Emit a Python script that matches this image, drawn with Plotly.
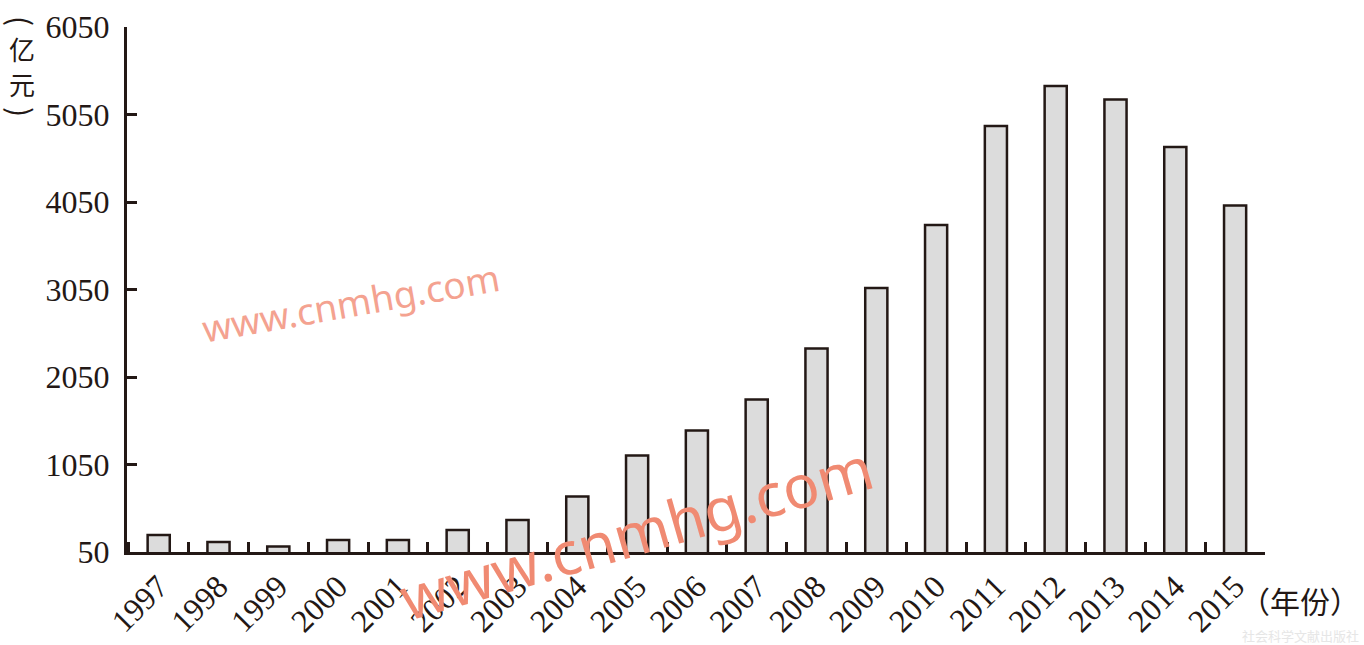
import plotly.graph_objects as go

years = ["1997", "1998", "1999", "2000", "2001", "2002", "2003", "2004", "2005", "2006",
         "2007", "2008", "2009", "2010", "2011", "2012", "2013", "2014", "2015"]
values = [244, 164, 113, 187, 187, 301, 416, 684, 1153, 1439,
          1793, 2376, 3067, 3787, 4919, 5376, 5221, 4679, 4010]
y_ticks = [50, 1050, 2050, 3050, 4050, 5050, 6050]

ink = "#231815"
serif = "Liberation Serif, Times New Roman, serif"
cjk = "Noto Sans CJK SC, sans-serif"

L, R, T, B = 127, 99, 27, 93
W, H = 1364, 645
PW, PH = W - L - R, H - T - B


def px(xp):
    return (xp - L) / PW


def py(yp):
    return (H - B - yp) / PH


fig = go.Figure()
fig.add_trace(go.Bar(
    x=years, y=values,
    width=0.37,
    marker=dict(color="#dcdcdc", line=dict(color=ink, width=2.5)),
))

fig.update_layout(
    width=W, height=H,
    margin=dict(l=L, r=R, t=T, b=B),
    paper_bgcolor="white", plot_bgcolor="white",
    showlegend=False,
    xaxis=dict(
        type="category",
        range=[-0.53, 18.5],
        automargin=False,
        showline=True, linecolor=ink, linewidth=3,
        ticks="inside", tickson="boundaries", ticklen=10, tickwidth=3, tickcolor=ink,
        tickangle=-45,
        tickfont=dict(family=serif, size=32, color=ink),
        showgrid=False, zeroline=False,
    ),
    yaxis=dict(
        range=[50, 6050],
        automargin=False,
        tickvals=y_ticks,
        ticktext=[str(v) for v in y_ticks],
        showline=True, linecolor=ink, linewidth=3,
        ticks="inside", ticklen=10, tickwidth=3, tickcolor=ink,
        ticklabelstandoff=8,
        tickfont=dict(family=serif, size=32, color=ink),
        showgrid=False, zeroline=False,
    ),
)

# vertical y-axis unit label （亿元）
fig.add_annotation(text="(", xref="paper", yref="paper", x=px(22), y=py(21),
                   xanchor="center", yanchor="middle", showarrow=False, textangle=90,
                   font=dict(family=cjk, size=30, color=ink))
fig.add_annotation(text="亿", xref="paper", yref="paper", x=px(22), y=py(49),
                   xanchor="center", yanchor="middle", showarrow=False,
                   font=dict(family=cjk, size=26, color=ink))
fig.add_annotation(text="元", xref="paper", yref="paper", x=px(22), y=py(84),
                   xanchor="center", yanchor="middle", showarrow=False,
                   font=dict(family=cjk, size=26, color=ink))
fig.add_annotation(text=")", xref="paper", yref="paper", x=px(22), y=py(112),
                   xanchor="center", yanchor="middle", showarrow=False, textangle=90,
                   font=dict(family=cjk, size=30, color=ink))

fig.add_annotation(
    text="（年份）", xref="paper", yref="paper",
    x=px(1362), y=py(600), xanchor="right", yanchor="middle",
    showarrow=False, font=dict(family=cjk, size=30, color=ink),
)
fig.add_annotation(
    text="社会科学文献出版社", xref="paper", yref="paper",
    x=px(1361), y=py(635), xanchor="right", yanchor="middle",
    showarrow=False, font=dict(family=cjk, size=13, color="#e6e6e6"),
)
# watermarks
fig.add_annotation(
    text="www.cnmhg.com", xref="paper", yref="paper",
    x=px(350), y=py(302), xanchor="center", yanchor="middle",
    showarrow=False, textangle=-10,
    font=dict(family="Noto Sans, sans-serif", size=37, color="#f4a290"),
)
fig.add_annotation(
    text="www.cnmhg.com", xref="paper", yref="paper",
    x=px(636), y=py(532), xanchor="center", yanchor="middle",
    showarrow=False, textangle=-16,
    font=dict(family="Noto Sans, sans-serif", size=60, color="#f08a72"),
)

fig.write_html(
    "out.html",
    config={"displayModeBar": False},
    post_script="document.body.style.margin='0';document.body.style.padding='0';",
)
